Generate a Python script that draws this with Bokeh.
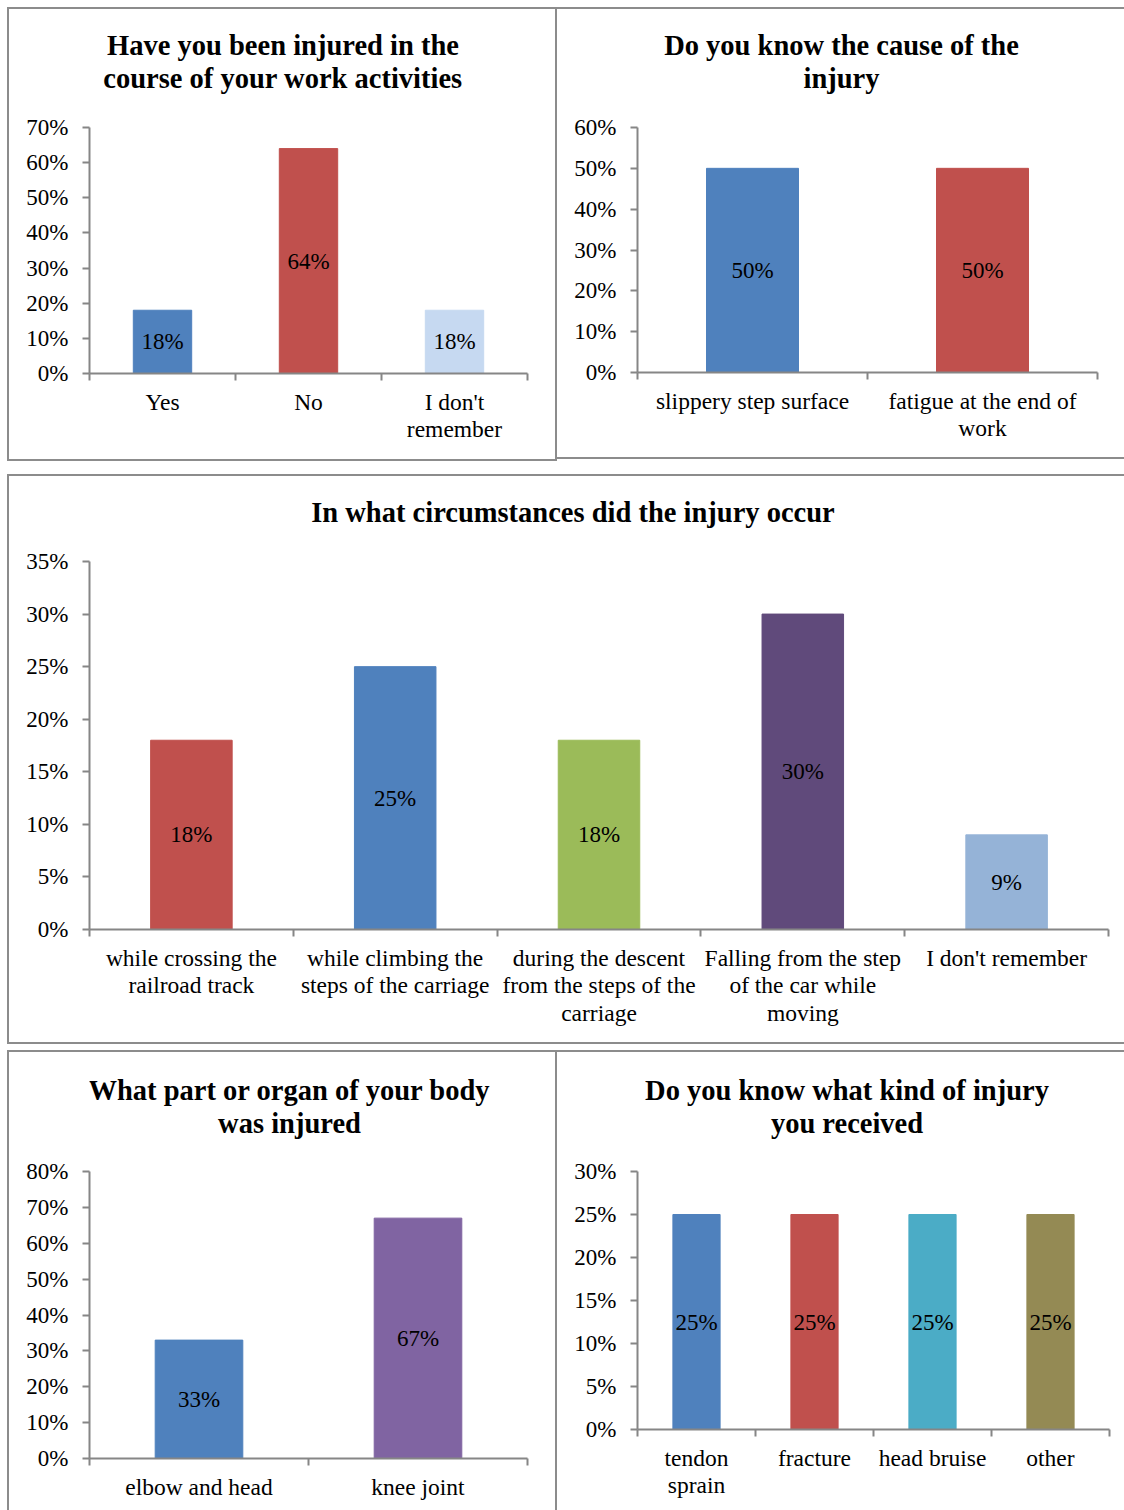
from bokeh.plotting import figure
from bokeh.models import Range1d, FixedTicker, NumeralTickFormatter, ColumnDataSource
from bokeh.layouts import column, row
from bokeh.core.properties import value
from bokeh.embed import file_html
from bokeh.resources import INLINE

# ---------------- data ----------------
q1_title = ["Have you been injured in the", "course of your work activities"]
q1_categories = ["Yes", "No", "I don't\nremember"]
q1_values = [0.18, 0.64, 0.18]
q1_colors = ["#4F81BD", "#C0504D", "#C6D9F1"]
q1_ymax, q1_step = 0.7, 0.1

q2_title = ["Do you know the cause of the", "injury"]
q2_categories = ["slippery step surface", "fatigue at the end of\nwork"]
q2_values = [0.50, 0.50]
q2_colors = ["#4F81BD", "#C0504D"]
q2_ymax, q2_step = 0.6, 0.1

q3_title = ["In what circumstances did the injury occur"]
q3_categories = ["while crossing the\nrailroad track",
                 "while climbing the\nsteps of the carriage",
                 "during the descent\nfrom the steps of the\ncarriage",
                 "Falling from the step\nof the car while\nmoving",
                 "I don't remember"]
q3_values = [0.18, 0.25, 0.18, 0.30, 0.09]
q3_colors = ["#C0504D", "#4F81BD", "#9BBB59", "#604A7B", "#95B3D7"]
q3_ymax, q3_step = 0.35, 0.05

q4_title = ["What part or organ of your body", "was injured"]
q4_categories = ["elbow and head", "knee joint"]
q4_values = [0.33, 0.67]
q4_colors = ["#4F81BD", "#8064A2"]
q4_ymax, q4_step = 0.8, 0.1

q5_title = ["Do you know what kind of injury", "you received"]
q5_categories = ["tendon\nsprain", "fracture", "head bruise", "other"]
q5_values = [0.25, 0.25, 0.25, 0.25]
q5_colors = ["#4F81BD", "#C0504D", "#4BACC6", "#948A54"]
q5_ymax, q5_step = 0.3, 0.05

# ---------------- styling ----------------
FONT = "Liberation Serif"
AXIS = "#868686"
BORDER = "#8c8c8c"


def make_panel(title_lines, cats, vals, colors, ymax, step, w, h, mb, title_cx, title_ys):
    """mb = (left, right, plot-area top, bottom) in px; the frame is extended up to
    the top of the panel so the title can be drawn inside it, the y axis is bounded."""
    n = len(cats)
    left, right, top, bottom = mb
    fh_axis = h - bottom - top           # px height of the 0..ymax span
    y_end = ymax * (h - bottom) / fh_axis
    p = figure(width=w, height=h, x_range=Range1d(0, n), y_range=Range1d(0, y_end),
               output_backend="svg", toolbar_location=None,
               min_border_left=left, min_border_right=right,
               min_border_top=0, min_border_bottom=bottom,
               styles={"outline": f"2px solid {BORDER}"})
    p.xgrid.visible = False
    p.ygrid.visible = False
    p.outline_line_color = None
    p.background_fill_color = "white"
    p.border_fill_color = "white"

    centers = [i + 0.5 for i in range(n)]
    src = ColumnDataSource(dict(x=centers, top=vals, color=colors,
                                mid=[v / 2 for v in vals],
                                label=[f"{round(v * 100)}%" for v in vals]))
    p.vbar(x="x", top="top", width=0.4, color="color", source=src)
    p.text(x="x", y="mid", text="label", source=src, text_font=value(FONT),
           text_font_size="23px", text_align="center", text_baseline="middle",
           text_color="black")

    # title (inside the extended frame)
    fw = w - left - right
    tx = (title_cx - left) / fw * n
    tsrc = ColumnDataSource(dict(
        x=[tx] * len(title_lines),
        y=[ymax * (h - bottom - ty) / fh_axis for ty in title_ys],
        text=title_lines))
    p.text(x="x", y="y", text="text", source=tsrc, text_font=value(FONT),
           text_font_size="28.5px", text_font_style="bold", text_align="center",
           text_baseline="middle", text_color="black")

    xa = p.xaxis[0]
    xa.ticker = FixedTicker(ticks=centers, minor_ticks=list(range(n + 1)))
    xa.major_label_overrides = {c: lab for c, lab in zip(centers, cats)}
    xa.major_tick_line_color = None
    xa.major_tick_out = 0
    xa.major_tick_in = 0
    xa.minor_tick_line_color = AXIS
    xa.minor_tick_line_width = 2
    xa.minor_tick_out = 7
    xa.minor_tick_in = 0
    xa.axis_line_color = AXIS
    xa.axis_line_width = 2
    xa.major_label_text_font = FONT
    xa.major_label_text_font_size = "23.5px"
    xa.major_label_text_color = "black"
    xa.major_label_text_line_height = 1.06
    xa.major_label_standoff = 8
    xa.major_label_orientation = "horizontal"

    ya = p.yaxis[0]
    k = round(ymax / step)
    ya.ticker = FixedTicker(ticks=[round(i * step, 4) for i in range(k + 1)])
    ya.formatter = NumeralTickFormatter(format="0%")
    ya.bounds = (0, ymax)
    ya.minor_tick_line_color = None
    ya.major_tick_line_color = AXIS
    ya.major_tick_line_width = 2
    ya.major_tick_out = 7
    ya.major_tick_in = 0
    ya.axis_line_color = AXIS
    ya.axis_line_width = 2
    ya.major_label_text_font = FONT
    ya.major_label_text_font_size = "23px"
    ya.major_label_text_color = "black"
    ya.major_label_standoff = 14
    return p


p1 = make_panel(q1_title, q1_categories, q1_values, q1_colors, q1_ymax, q1_step,
                546, 450, (80, 28, 118, 86), 273.5, (36, 69))
p2 = make_panel(q2_title, q2_categories, q2_values, q2_colors, q2_ymax, q2_step,
                567, 448, (80, 27, 118, 85), 284, (36, 69))
p3 = make_panel(q3_title, q3_categories, q3_values, q3_colors, q3_ymax, q3_step,
                1115, 566, (80, 16, 85, 113), 563.5, (36,))
p4 = make_panel(q4_title, q4_categories, q4_values, q4_colors, q4_ymax, q4_step,
                546, 458, (80, 28, 119, 52), 280, (38, 71))
p5 = make_panel(q5_title, q5_categories, q5_values, q5_colors, q5_ymax, q5_step,
                567, 458, (80, 15, 119, 81), 289.5, (38, 71))

layout = column(
    row(column(p1, margin=(9, 0, 0, 9)), column(p2, margin=(9, 0, 0, 2)), spacing=0),
    column(p3, margin=(17, 0, 0, 9)),
    row(column(p4, margin=(10, 0, 0, 9)), column(p5, margin=(10, 0, 0, 2)), spacing=0),
    spacing=0)

open("out.html", "w").write(file_html(layout, INLINE))
